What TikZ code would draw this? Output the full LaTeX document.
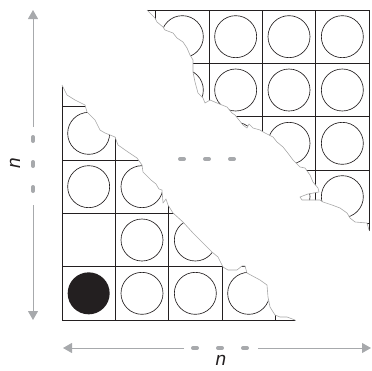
\documentclass[tikz,border=0pt]{standalone}
\usepackage{fontspec}
\setmainfont{Liberation Sans}
\usetikzlibrary{arrows.meta}
\definecolor{tearcol}{HTML}{A8A8A8}
\definecolor{arrcol}{HTML}{A7A9AC}
\definecolor{inkcol}{HTML}{231F20}
\begin{document}
\begin{tikzpicture}[x=1pt,y=-1pt,
  gridline/.style={line width=0.8pt,draw=inkcol},
  cellcircle/.style={line width=0.65pt,draw=inkcol},
  tearline/.style={line width=0.6pt,draw=tearcol,line join=round},
  dimarrow/.style={line width=1pt,draw=arrcol,-{Triangle[width=10pt,length=9pt]}},
  dimdot/.style={line width=4pt,draw=arrcol,line cap=round},
  lbl/.style={inner sep=0pt,text=inkcol,font=\fontsize{19}{19}\selectfont\itshape},
]
\useasboundingbox (0,0) rectangle (372,370);
\def\lowtear{(62,85) -- (67,95) -- (75,100) -- (85,105) -- (87,112) -- (95,120) -- (100,130) -- (105,133) -- (115,137) -- (118,145) -- (128,152) -- (137,158) -- (142,165) -- (143,172) -- (148,177) -- (151,180) -- (156,184) -- (159,189) -- (162,190) -- (163,203) -- (166,199) -- (168,205) -- (173,213) -- (183,222) -- (193,233) -- (203,243) -- (212,252) -- (218,257) -- (223,267) -- (228,270) -- (237,270) -- (242,266) -- (245,266) -- (247,273) -- (260,280) -- (267,285) -- (268,297) -- (270,307) -- (275,315) -- (280,317) -- (287,317) -- (295,320)}
\def\uptear{(147,10) -- (155,18) -- (157,22) -- (163,27) -- (165,30) -- (173,33) -- (177,38) -- (183,42) -- (187,48) -- (190,55) -- (193,60) -- (193,72) -- (195,82) -- (198,93) -- (203,98) -- (205,103) -- (210,100) -- (217,103) -- (227,107) -- (232,113) -- (235,115) -- (243,125) -- (247,128) -- (249,124) -- (253,128) -- (260,130) -- (265,133) -- (273,137) -- (277,142) -- (283,147) -- (287,152) -- (293,160) -- (300,167) -- (305,168) -- (310,175) -- (313,182) -- (318,188) -- (319,192) -- (308,194) -- (300,197) -- (302,200) -- (320,200) -- (323,202) -- (332,205) -- (340,208) -- (347,213) -- (350,218) -- (355,222) -- (367,223) -- (369,230)}
% lower-left torn piece
\begin{scope}
  \clip \lowtear -- (296,322) -- (60,322) -- (60,85) -- cycle;
  \foreach \i in {0,...,5} {
    \draw[gridline] ({62+\i*53.333},320) -- ({62+\i*53.333},53);
    \draw[gridline] (62,{320-\i*53.333}) -- (329,{320-\i*53.333});
  }
  \foreach \c/\r in {1/0,2/0,3/0,1/1,2/1,0/2,1/2,0/3} {
    \draw[cellcircle] ({88.667+\c*53.333},{293.333-\r*53.333}) circle (21);
  }
  \fill[inkcol] (88.667,293.333) circle (21);
\end{scope}
\draw[tearline] \lowtear;
% upper-right torn piece
\begin{scope}
  \clip \uptear -- (371,232) -- (371,8) -- (145,8) -- cycle;
  \foreach \i in {0,...,5} {
    \draw[gridline] ({369-\i*53.333},10) -- ({369-\i*53.333},277);
    \draw[gridline] (102,{10+\i*53.333}) -- (369,{10+\i*53.333});
  }
  \foreach \c in {0,...,4} {
    \foreach \r in {0,...,3} {
      \draw[cellcircle] ({342.333-\c*53.333},{36.667+\r*53.333}) circle (21);
    }
  }
\end{scope}
\draw[tearline] \uptear;
% dimension arrows
\coordinate (vtop) at (33,10);
\coordinate (vup) at (33,127);
\coordinate (vlow) at (33,205);
\coordinate (vbot) at (33,320);
\draw[dimarrow] (vup) -- (vtop);
\draw[dimarrow] (vlow) -- (vbot);
\foreach \y in {139,164,189} \draw[dimdot] (33,\y-2) -- (33,\y+2);
\coordinate (hleft) at (63,348);
\coordinate (hl) at (184,348);
\coordinate (hr) at (258,348);
\coordinate (hright) at (371,348);
\draw[dimarrow] (hl) -- (hleft);
\draw[dimarrow] (hr) -- (hright);
\foreach \x in {195,220,245} \draw[dimdot] (\x-2,348) -- (\x+2,348);
\foreach \x in {182,207,232} \draw[dimdot] (\x-2,159) -- (\x+2,159);
\node[lbl,rotate=90] (nv) at (15,163) {n};
\node[lbl] (nh) at (221,360) {n};
\end{tikzpicture}
\end{document}
